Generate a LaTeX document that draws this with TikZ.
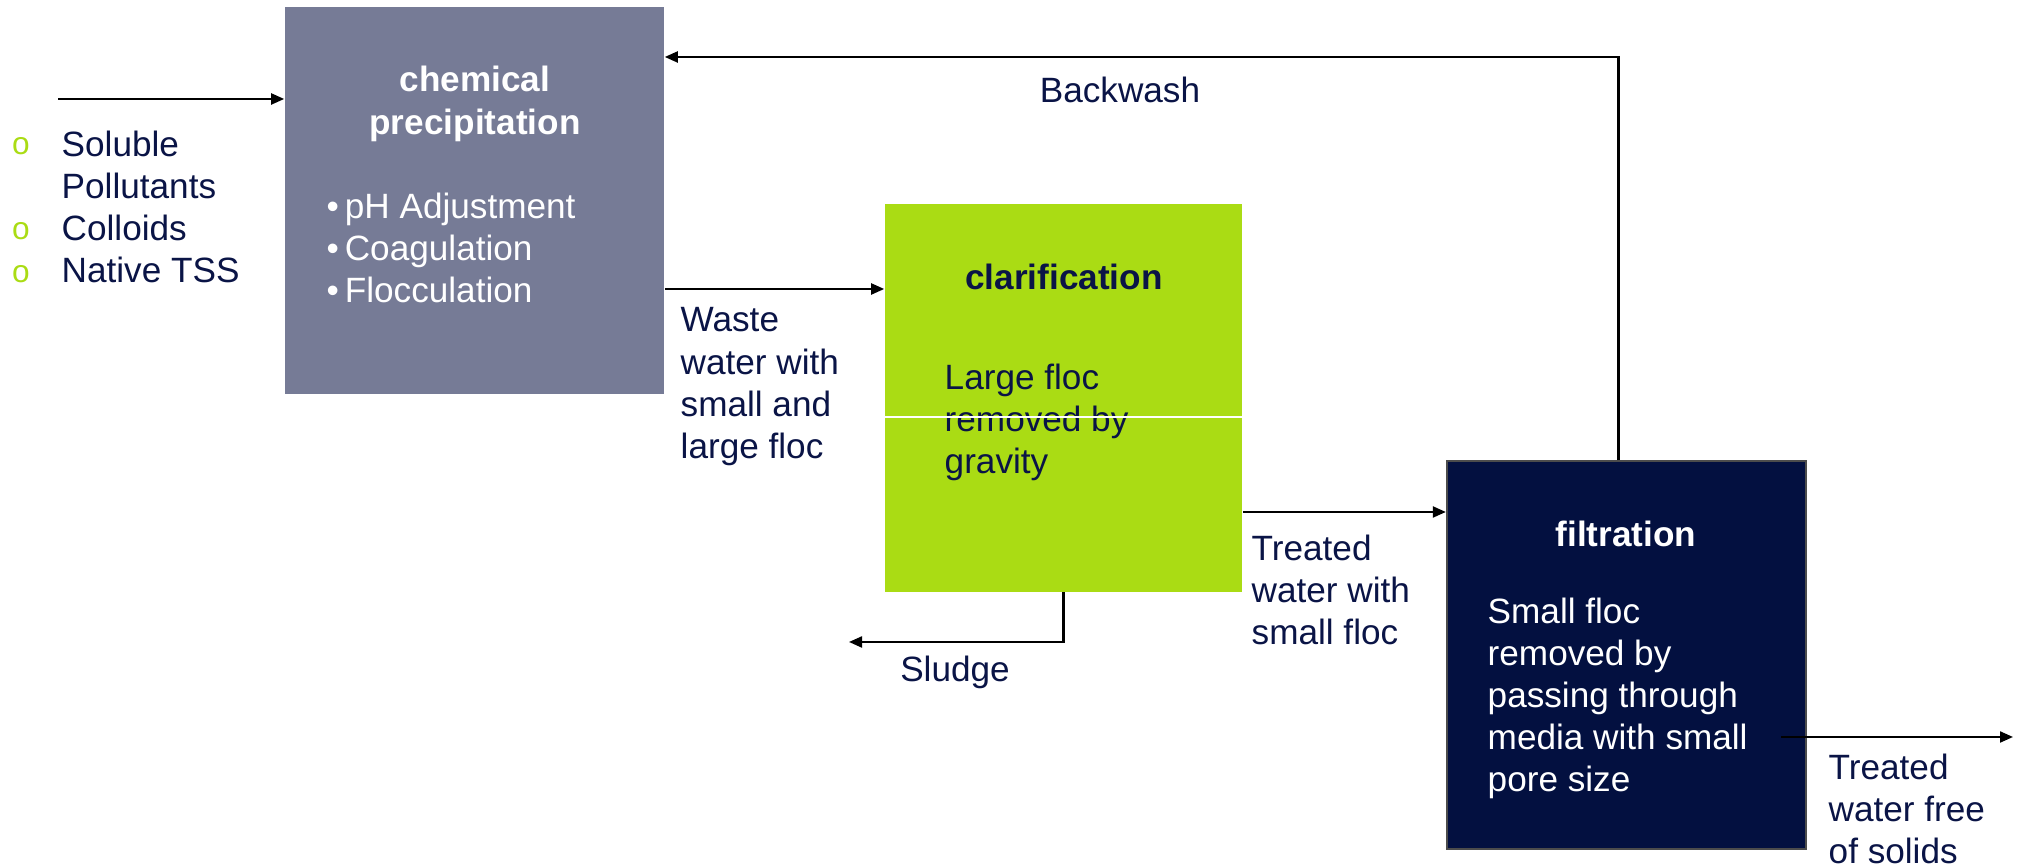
\documentclass[tikz,border=0pt]{standalone}
\usepackage{fontspec}
\setmainfont{Liberation Sans}
\usepackage{tikz}
\usetikzlibrary{arrows.meta}
\definecolor{chemgray}{RGB}{118,123,150}
\definecolor{clargreen}{RGB}{170,220,20}
\definecolor{filtnavy}{RGB}{3,16,64}
\definecolor{txtnavy}{RGB}{10,20,70}

\begin{document}
\begin{tikzpicture}[x=0.01cm,y=-0.01cm,
  every node/.style={font=\fontsize{10}{12}\selectfont,text=txtnavy,inner sep=0pt},
  unit/.style={minimum width=#1,minimum height=3.87cm},
  title/.style={font=\fontsize{10}{12}\selectfont\bfseries,align=center},
  body/.style={anchor=north west,align=left},
  dot/.style={text=clargreen,font=\fontsize{9}{12}\selectfont},
  flow/.style={draw=black,line width=0.6pt,-{Triangle[length=1.3mm,width=1.1mm]}}]
\useasboundingbox (0,0) rectangle (2023,868);
% the three treatment units
\node[unit=3.79cm,fill=chemgray] (chem) at (474.5,200.5) {};
\node[unit=3.57cm,fill=clargreen] (clar) at (1063.5,398) {};
\node[unit=3.59cm,fill=filtnavy,draw=black!70,line width=0.6pt] (filt) at (1626.5,655) {};
% incoming pollutants
\foreach \y in {146,231,274}
  \node[dot] (b\y) at (21,\y) {o};
\node[body] (poll) at (61,130) {Soluble\\Pollutants\\Colloids\\Native TSS};
% chemical precipitation
\node[title,text=white] (chemt) at (475,104) {chemical\\precipitation};
\node[body,text=white] (chemb) at (326,192) {\textbullet\,pH Adjustment\\\textbullet\,Coagulation\\\textbullet\,Flocculation};
% clarification
\node[title] (clart) at (1064,277) {clarification};
\node[body] (clarb) at (944,363) {Large floc\\removed by\\gravity};
\draw[white,line width=0.8pt] (clar.west |- 0,417) -- (clar.east |- 0,417);
% filtration
\node[title,text=white] (filtt) at (1626,534) {filtration};
\node[body,text=white] (filtb) at (1487,597) {Small floc\\removed by\\passing through\\media with small\\pore size};
% flows
\coordinate (feed) at (58,99);
\coordinate (sludge) at (849,642);
\coordinate (out) at (2013,737);
\draw[flow] (feed) -- (chem.west |- feed);
\draw[flow] (chem.east |- 0,289) -- (clar.west |- 0,289);
\draw[flow] (clar.east |- 0,512) -- (filt.west |- 0,512);
\draw[flow] (clar.south) |- (sludge);
\draw[flow] ([xshift=-0.08cm]filt.north) |- (chem.east |- 0,57);
\draw[flow] ([xshift=-0.26cm]filt.east |- out) -- (out);
% flow labels
\node[body] (waste) at (680,307) {Waste\\water with\\small and\\large floc};
\node[body] (treat) at (1251,534) {Treated\\water with\\small floc};
\node[body] (final) at (1828,753) {Treated\\water free\\of solids};
\node (sludget) at (955,672) {Sludge};
\node (backw) at (1120,90) {Backwash};
\end{tikzpicture}
\end{document}
